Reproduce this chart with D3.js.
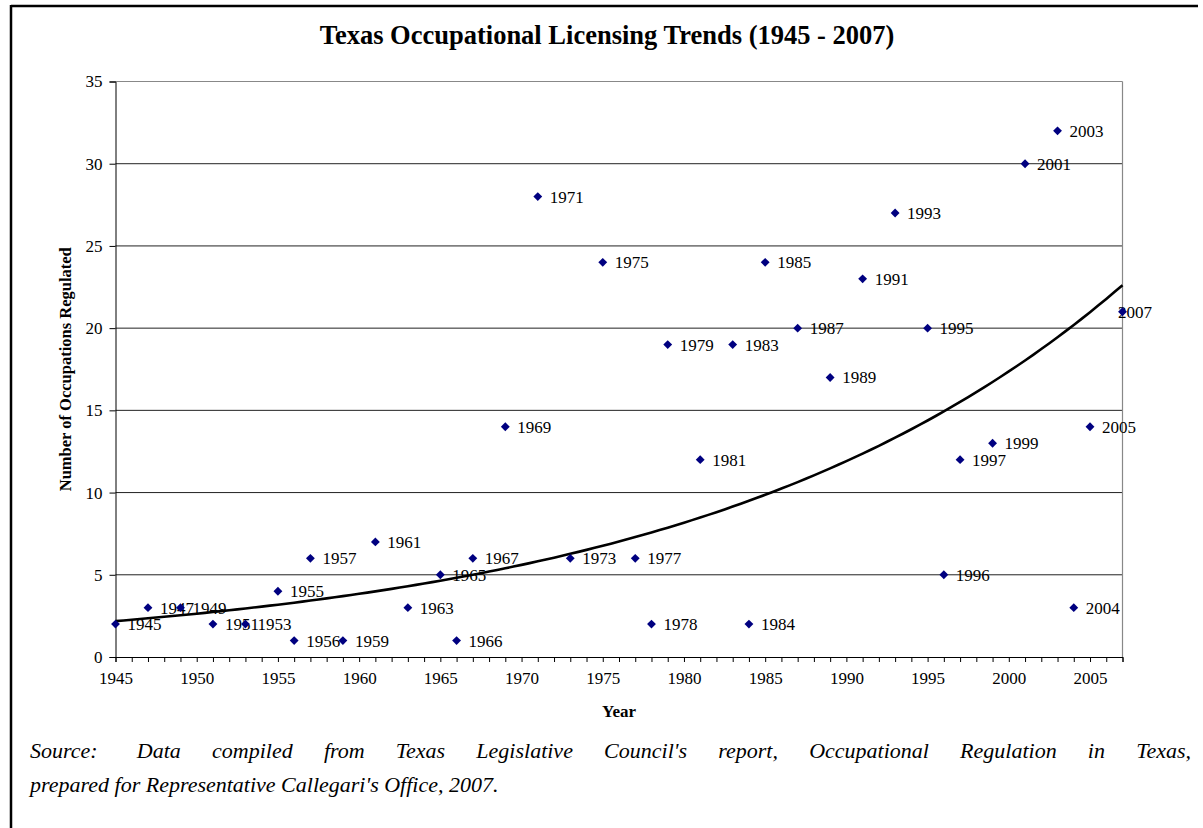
<!DOCTYPE html>
<html>
<head>
<meta charset="utf-8">
<script src="https://cdn.jsdelivr.net/npm/d3@7"></script>
<style>
  body { margin: 0; background: #fff; }
  #wrap { position: relative; width: 1203px; height: 828px; overflow: hidden; }
  .src {
    position: absolute; left: 30px; width: 1161px; white-space: nowrap;
    font-family: "Liberation Serif", "Times New Roman", serif;
    font-style: italic; font-size: 22px; line-height: 34px;
  }
  #src1 { top: 734px; text-align: justify; text-align-last: justify; white-space: normal; }
  #src2 { top: 768px; }
</style>
</head>
<body>
<div id="wrap">
  <div id="chart"></div>
  <div class="src" id="src1"><span style="margin-right:8px">Source:</span> Data compiled from Texas Legislative Council's report, Occupational Regulation in Texas,</div>
  <div class="src" id="src2">prepared for Representative Callegari's Office, 2007.</div>
</div>
<script>
// years and number of occupations regulated that year
const years = [1945, 1947, 1949, 1951, 1953, 1955, 1956, 1957, 1959, 1961,
  1963, 1965, 1966, 1967, 1969, 1971, 1973, 1975, 1977, 1978,
  1979, 1981, 1983, 1984, 1985, 1987, 1989, 1991, 1993, 1995,
  1996, 1997, 1999, 2001, 2003, 2004, 2005, 2007];
const counts = [2, 3, 3, 2, 2, 4, 1, 6, 1, 7,
  3, 5, 1, 6, 14, 28, 6, 24, 6, 2,
  19, 12, 19, 2, 24, 20, 17, 23, 27, 20,
  5, 12, 13, 30, 32, 3, 14, 21];
const xTicks = [1945, 1950, 1955, 1960, 1965, 1970, 1975, 1980, 1985, 1990, 1995, 2000, 2005];
const yTicks = [0, 5, 10, 15, 20, 25, 30, 35];

const W = 1203, H = 828;
const plotL = 115.5, plotR = 1122.5, plotT = 81.5, plotB = 657;
const serif = "'Liberation Serif', 'Times New Roman', serif";

const data = years.map((y, i) => ({year: y, n: counts[i]}));

const svg = d3.select("#chart").append("svg")
  .attr("width", W).attr("height", H)
  .style("position", "absolute").style("left", 0).style("top", 0)
  .style("font-family", serif);

// page frame
svg.append("line").attr("x1", 11).attr("x2", 1198).attr("y1", 6).attr("y2", 6)
  .attr("stroke", "#000").attr("stroke-width", 2.5);
svg.append("line").attr("x1", 11).attr("x2", 11).attr("y1", 5).attr("y2", H)
  .attr("stroke", "#000").attr("stroke-width", 2.5);

const x = d3.scaleLinear().domain([1945, 2007]).range([plotL, plotR]);
const y = d3.scaleLinear().domain([0, 35]).range([plotB, plotT]);

// gridlines
svg.append("g").selectAll("line").data(yTicks.filter(t => t > 0))
  .enter().append("line")
  .attr("x1", plotL).attr("x2", plotR)
  .attr("y1", d => y(d)).attr("y2", d => y(d))
  .attr("stroke", d => d === 35 ? "#888" : "#222").attr("stroke-width", 1);

// right border of plot area
svg.append("line").attr("x1", plotR).attr("x2", plotR).attr("y1", plotT).attr("y2", plotB)
  .attr("stroke", "#888").attr("stroke-width", 1.2);

// y axis
const yAxis = svg.append("g").attr("transform", `translate(${plotL},0)`)
  .call(d3.axisLeft(y).tickValues(yTicks).tickSize(6).tickPadding(7));
yAxis.select(".domain").attr("stroke", "#000");
yAxis.selectAll("text").attr("font-size", 17).attr("font-family", serif).attr("fill", "#000");

// x axis, a tick every year
const xAxis = svg.append("g").attr("transform", `translate(0,${plotB})`)
  .call(d3.axisBottom(x).tickValues(d3.range(1945, 2008)).tickSize(5).tickPadding(10)
    .tickFormat(d => xTicks.includes(d) ? d : ""));
xAxis.select(".domain").attr("stroke", "#000");
xAxis.selectAll("text").attr("font-size", 17).attr("font-family", serif).attr("fill", "#000");

// point labels (kept inside the right edge, like the original)
svg.append("g").selectAll("text").data(data).enter().append("text")
  .attr("x", d => Math.min(x(d.year) + 12, 1118)).attr("y", d => y(d.n))
  .attr("dy", "0.35em").attr("font-size", 17).text(d => d.year);

// exponential trendline (least squares on ln y, like Excel)
const lx = years, ly = counts.map(Math.log);
const mx = d3.mean(lx), my = d3.mean(ly);
const b = d3.sum(lx.map((v, i) => (v - mx) * (ly[i] - my))) / d3.sum(lx.map(v => (v - mx) * (v - mx)));
const a = my - b * mx;
const trend = d3.range(1945, 2007.01, 0.5).map(t => ({year: t, n: Math.exp(a + b * t)}));
svg.append("path").datum(trend)
  .attr("fill", "none").attr("stroke", "#000").attr("stroke-width", 2.6)
  .attr("d", d3.line().x(d => x(d.year)).y(d => y(d.n)));

// markers
svg.append("g").selectAll("path").data(data).enter().append("path")
  .attr("transform", d => `translate(${x(d.year)},${y(d.n)})`)
  .attr("d", d3.symbol(d3.symbolDiamond2, 50))
  .attr("fill", "#000080");

// title and axis titles
svg.append("text").attr("x", 607).attr("y", 44).attr("text-anchor", "middle")
  .attr("font-size", 26.5).attr("font-weight", "bold")
  .text("Texas Occupational Licensing Trends (1945 - 2007)");
svg.append("text").attr("x", (plotL + plotR) / 2).attr("y", 717).attr("text-anchor", "middle")
  .attr("font-size", 17).attr("font-weight", "bold").text("Year");
svg.append("text").attr("transform", `translate(71,${(plotT + plotB) / 2}) rotate(-90)`)
  .attr("text-anchor", "middle").attr("font-size", 16.5).attr("font-weight", "bold")
  .text("Number of Occupations Regulated");
</script>
</body>
</html>
